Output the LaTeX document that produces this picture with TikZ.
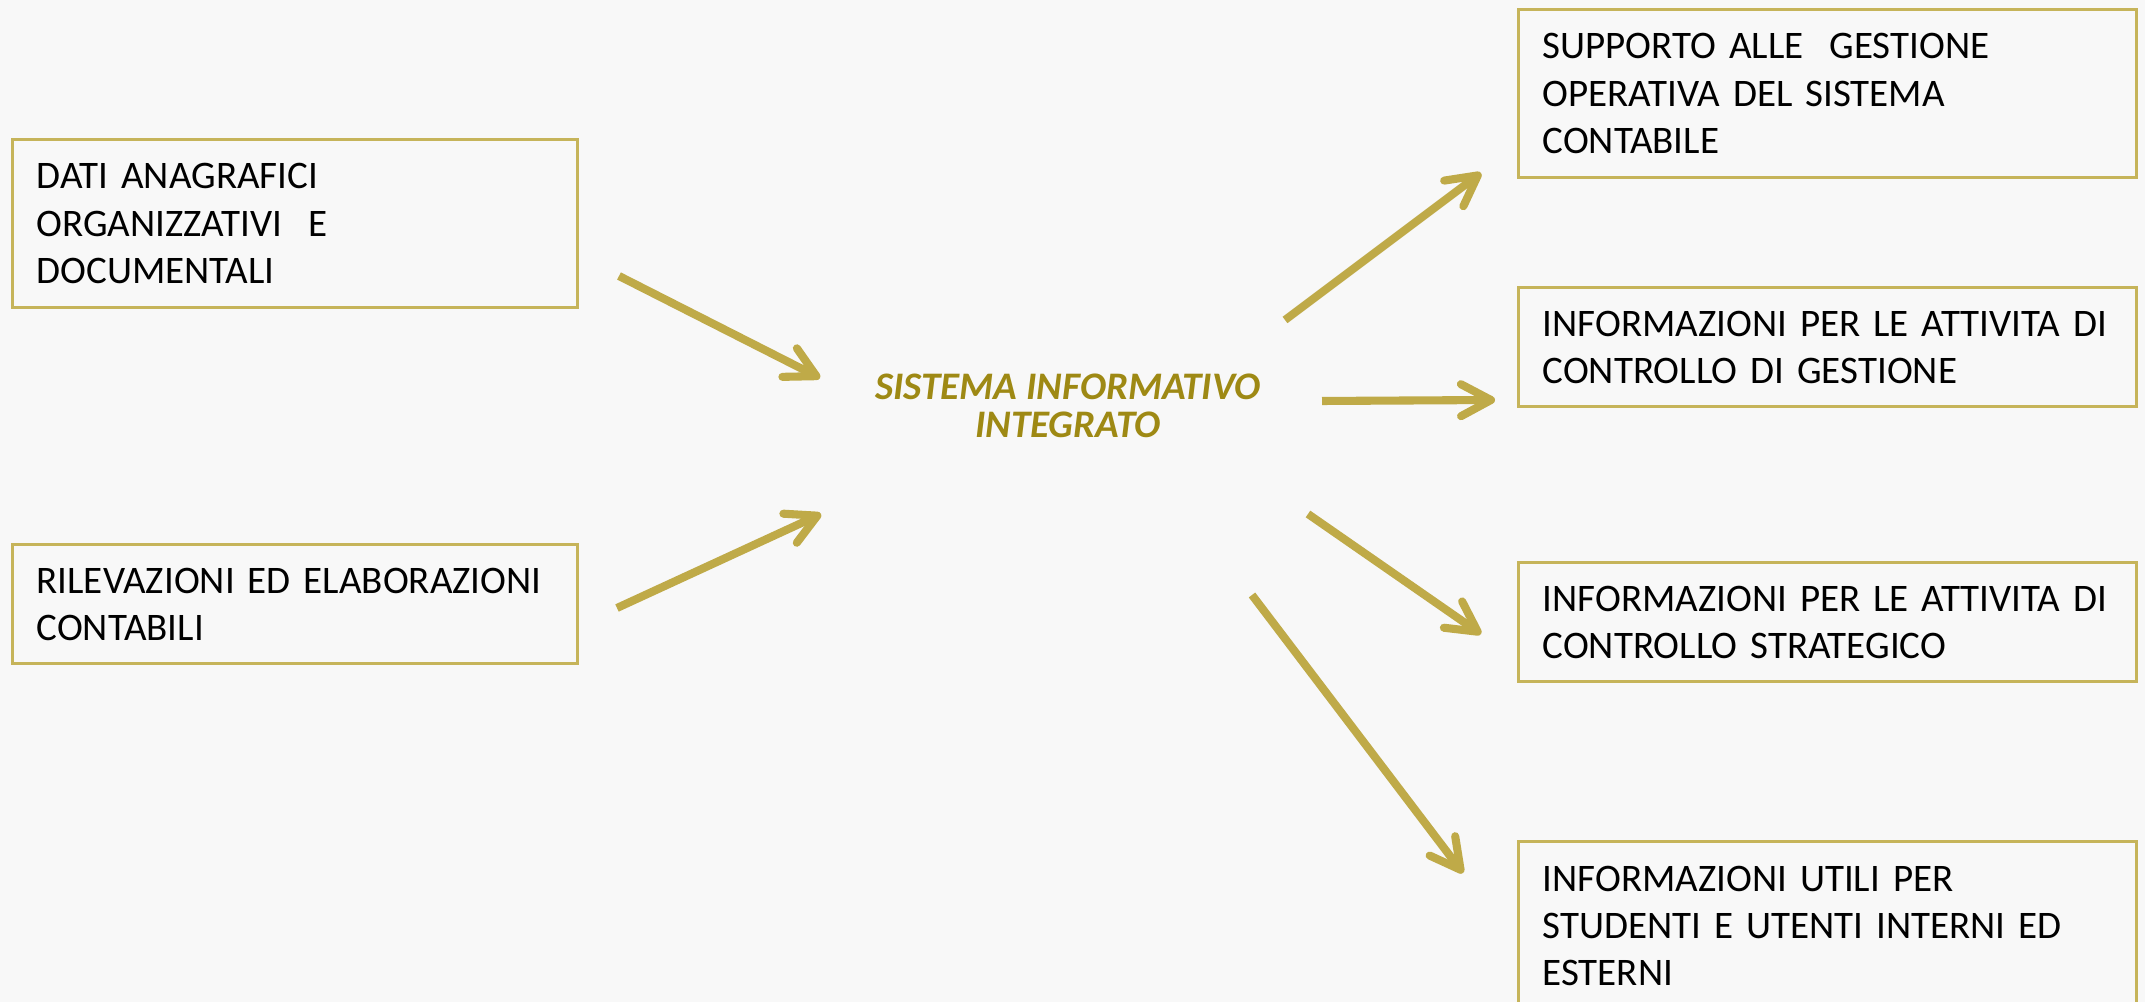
\documentclass[tikz,border=0pt]{standalone}
\usepackage{fontspec}
\setmainfont{Carlito}
\usetikzlibrary{arrows.meta, positioning}
\definecolor{freccc}{HTML}{BFAA48}
\definecolor{bordoc}{HTML}{C6B45A}
\definecolor{titc}{HTML}{9E8914}
\definecolor{sfondoc}{HTML}{F8F8F8}

\begin{document}
\begin{tikzpicture}[>={Straight Barb[length=3mm, width=3.2mm, round]},
      font=\fontsize{11.1}{13.4}\selectfont,
      voce/.style={draw=bordoc, line width=0.9pt, anchor=north west,
        inner xsep=0.24cm, inner ysep=0pt, align=left, text width=#1},
      freccia/.style={->, freccc, line width=2.3pt}]
    \fill[sfondoc] (0,0) rectangle (21.45,10.02);
    \useasboundingbox (0,0) rectangle (21.45,10.02);
    \node[voce=5.17cm, minimum height=1.68cm] (dati) at (0.11,8.64)
      {DATI ANAGRAFICI\\ORGANIZZATIVI\ \ E\\DOCUMENTALI};
    \node[voce=5.17cm, minimum height=1.19cm] (ril) at (0.11,4.59)
      {RILEVAZIONI ED ELABORAZIONI\\CONTABILI};
    \node[font=\fontsize{11.1}{10.8}\selectfont\bfseries\itshape, titc,
          align=center] (sis) at (10.68,5.96)
      {SISTEMA INFORMATIVO\\INTEGRATO};
    \node[voce=5.70cm, minimum height=1.68cm] (supp) at (15.17,9.94)
      {SUPPORTO ALLE\ \ GESTIONE\\OPERATIVA DEL SISTEMA\\CONTABILE};
    \node[voce=5.70cm, minimum height=1.19cm] (cdg) at (15.17,7.16)
      {INFORMAZIONI PER LE ATTIVITA DI\\CONTROLLO DI GESTIONE};
    \node[voce=5.70cm, minimum height=1.19cm] (cs) at (15.17,4.41)
      {INFORMAZIONI PER LE ATTIVITA DI\\CONTROLLO STRATEGICO};
    \node[voce=5.70cm, minimum height=1.68cm] (stud) at (15.17,1.62)
      {INFORMAZIONI UTILI PER\\STUDENTI E UTENTI INTERNI ED\\ESTERNI};
    \coordinate (dati-o) at (6.19,7.26);  \coordinate (dati-i) at (8.20,6.24);
    \coordinate (ril-o) at (6.17,3.94);   \coordinate (ril-i) at (8.21,4.88);
    \coordinate (supp-o) at (12.85,6.82); \coordinate (supp-i) at (14.81,8.29);
    \coordinate (cdg-o) at (13.22,6.01);  \coordinate (cdg-i) at (14.95,6.02);
    \coordinate (cs-o) at (13.08,4.88);   \coordinate (cs-i) at (14.81,3.68);
    \coordinate (stud-o) at (12.52,4.07); \coordinate (stud-i) at (14.63,1.29);
    \draw[freccia] (dati-o) -- (dati-i);
    \draw[freccia] (ril-o) -- (ril-i);
    \draw[freccia] (supp-o) -- (supp-i);
    \draw[freccia] (cdg-o) -- (cdg-i);
    \draw[freccia] (cs-o) -- (cs-i);
    \draw[freccia] (stud-o) -- (stud-i);
  \end{tikzpicture}
\end{document}
